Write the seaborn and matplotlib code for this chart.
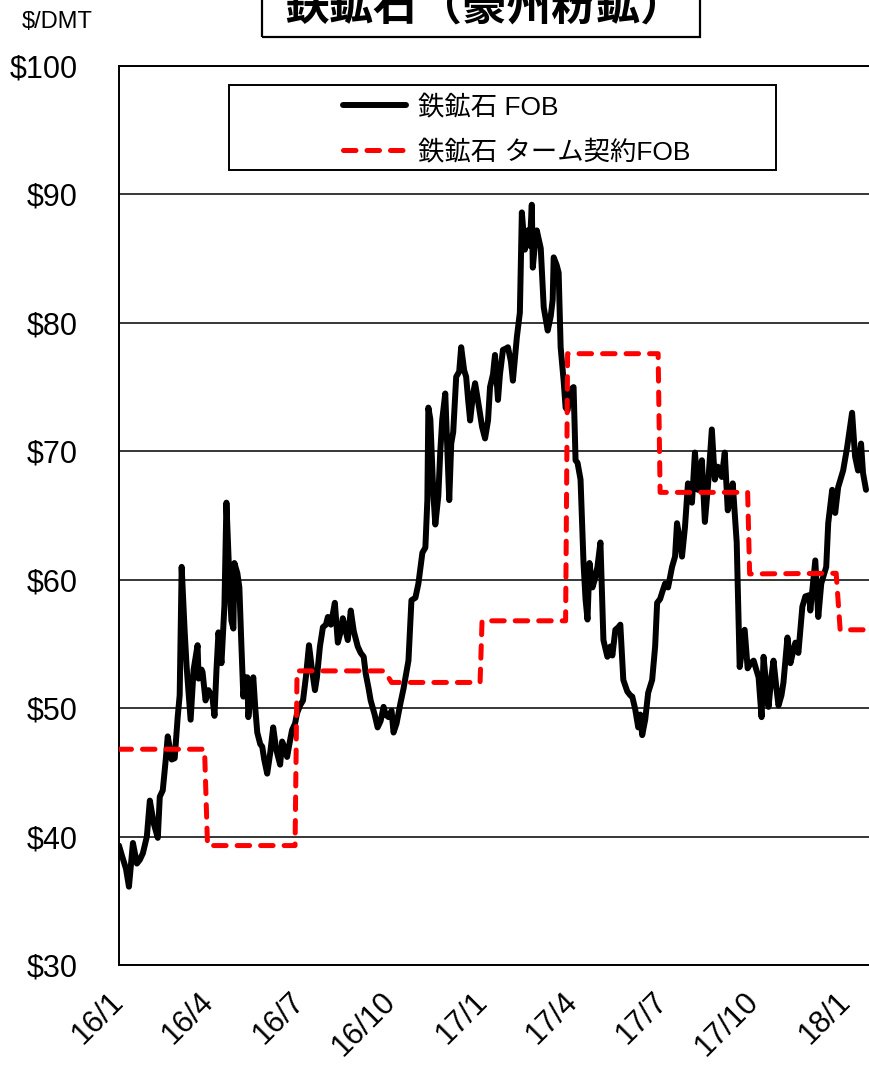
import numpy as np
import pandas as pd
import matplotlib
matplotlib.use("Agg")
import matplotlib.pyplot as plt
from matplotlib.patches import Rectangle
import seaborn as sns

# ---- data -------------------------------------------------------------
base_date = pd.Timestamp("2016-01-01")

# Iron ore spot FOB (US$/DMT), days counted from 2016-01-01
fob_days = [0, 3, 7, 10, 14, 18, 21, 24, 28, 31, 35, 39, 41, 44, 47, 49, 53, 56, 59, 61,
            63, 66, 68, 72, 75, 79, 80, 83, 84, 87, 90, 94, 96, 98, 100, 103, 106, 108, 111, 113,
            115, 116, 119, 121, 123, 125, 127, 129, 130, 133, 135, 137, 139, 142, 144, 146, 149, 152, 155, 158,
            162, 164, 167, 169, 172, 174, 177, 179, 182, 185, 188, 191, 194, 197, 199, 202, 205, 208, 210, 213,
            217, 220, 223, 225, 230, 233, 236, 240, 243, 246, 248, 251, 253, 257, 260, 263, 266, 268, 271, 274,
            276, 279, 283, 286, 288, 291, 294, 298, 301, 305, 308, 310, 311, 313, 316, 318, 321, 323, 325, 328,
            332, 334, 336, 339, 342, 344, 347, 349, 351, 353, 356, 358, 362, 365, 368, 371, 373, 376, 378, 381,
            383, 386, 389, 391, 394, 396, 400, 403, 405, 408, 411, 413, 415, 416, 418, 420, 424, 427, 431, 434,
            436, 437, 440, 442, 444, 447, 449, 451, 454, 457, 459, 461, 464, 467, 469, 471, 473, 476, 479, 481,
            484, 487, 491, 494, 496, 499, 502, 504, 507, 511, 514, 516, 519, 522, 524, 526, 529, 532, 536, 539,
            541, 544, 546, 549, 552, 556, 559, 561, 564, 566, 569, 572, 576, 579, 582, 586, 589, 592, 596, 599,
            602, 606, 609, 612, 614, 617, 621, 624, 629, 632, 635, 638, 643, 646, 648, 651, 653, 656, 658, 661,
            663, 666, 668, 672, 675, 678, 680, 683, 687, 690, 694, 695, 700, 703, 706, 711, 713, 717, 720, 723,
            728, 732, 737, 740, 743, 746, 748, 751]
fob_prices = [39.3, 38.5, 37.5, 36.1, 39.5, 37.9, 38.2, 38.7, 40.0, 42.8, 41.0, 39.9, 43.1, 43.6, 46.0, 47.8, 46.0, 46.1, 49.3, 51.0,
              61.0, 56.0, 53.2, 49.1, 53.0, 54.9, 52.3, 53.0, 52.8, 50.6, 51.4, 50.8, 49.4, 53.0, 55.9, 53.5, 58.0, 66.0, 60.0, 56.8,
              56.2, 61.3, 60.5, 59.4, 55.0, 50.9, 52.4, 52.4, 49.3, 51.5, 52.4, 50.0, 48.1, 47.2, 47.0, 46.0, 44.9, 46.5, 48.5, 46.8,
              45.6, 47.4, 46.8, 46.2, 47.5, 48.3, 48.8, 49.6, 50.2, 50.6, 52.5, 54.9, 53.0, 51.4, 52.4, 54.8, 56.3, 56.5, 57.1, 56.5,
              58.2, 55.1, 56.0, 57.0, 55.3, 57.6, 56.0, 54.8, 54.3, 54.0, 52.7, 51.5, 50.6, 49.5, 48.5, 49.0, 50.1, 49.5, 49.3, 49.8,
              48.1, 48.8, 50.4, 51.5, 52.4, 53.7, 58.4, 58.6, 59.7, 62.1, 62.5, 66.2, 73.4, 72.5, 66.7, 64.3, 66.5, 70.0, 72.5, 74.5,
              66.2, 70.6, 71.5, 75.8, 76.2, 78.1, 76.3, 75.8, 74.0, 72.4, 74.5, 75.3, 73.4, 71.9, 71.0, 72.4, 75.0, 76.0, 77.5, 74.0,
              76.0, 77.9, 78.0, 78.1, 77.0, 75.5, 78.9, 80.8, 88.6, 85.7, 87.2, 86.0, 89.2, 84.3, 86.0, 87.2, 85.8, 81.2, 79.4, 80.5,
              81.8, 85.1, 84.5, 83.9, 78.1, 75.5, 73.4, 73.2, 74.8, 75.0, 69.3, 69.1, 67.8, 61.3, 58.5, 56.9, 61.3, 59.4, 60.2, 61.0,
              62.9, 55.3, 54.0, 54.8, 54.1, 56.1, 56.3, 56.5, 52.2, 51.3, 51.0, 50.9, 49.9, 48.5, 49.5, 47.9, 49.1, 51.2, 52.2, 54.8,
              58.2, 58.5, 59.0, 59.7, 59.4, 61.0, 61.8, 64.4, 63.0, 61.8, 64.1, 67.5, 66.0, 69.9, 67.0, 69.3, 64.5, 67.2, 71.7, 67.8,
              68.8, 68.0, 69.9, 65.4, 66.0, 67.5, 62.9, 53.2, 56.1, 53.1, 53.5, 53.7, 52.4, 49.3, 54.0, 51.5, 50.1, 52.5, 53.7, 51.5,
              50.2, 51.0, 52.0, 55.5, 53.5, 54.5, 55.1, 54.3, 57.9, 58.7, 58.8, 57.6, 61.5, 57.1, 59.7, 61.0, 64.4, 67.0, 65.2, 67.2,
              68.5, 70.3, 73.0, 69.6, 68.5, 70.6, 68.3, 67.0]

# Quarterly term-contract FOB (US$/DMT): start and end of each quarter's level
term_days = [0, 86, 89, 177, 179, 267, 274, 363, 365, 449, 451, 542, 544, 632, 634, 721, 725, 754]
term_prices = [46.8, 46.8, 39.3, 39.3, 52.9, 52.9, 52.0, 52.0, 56.8, 56.8, 77.6, 77.6,
               66.8, 66.8, 60.45, 60.5, 56.1, 56.1]

xtick_dates = ["2016-01-01", "2016-04-01", "2016-07-01", "2016-10-01", "2017-01-01",
               "2017-04-01", "2017-07-01", "2017-10-01", "2018-01-01"]
xtick_labels = ["16/1", "16/4", "16/7", "16/10", "17/1", "17/4", "17/7", "17/10", "18/1"]
ytick_values = [30, 40, 50, 60, 70, 80, 90, 100]

series_labels = ["鉄鉱石 FOB", "鉄鉱石 ターム契約FOB"]
title_text = "鉄鉱石（豪州粉鉱）"
unit_text = "$/DMT"
x_end_day = 754

# ---- frames -----------------------------------------------------------
fob = pd.DataFrame({"date": base_date + pd.to_timedelta(fob_days, unit="D"),
                    "price": fob_prices})
term = pd.DataFrame({"date": base_date + pd.to_timedelta(term_days, unit="D"),
                     "price": term_prices})

# ---- style ------------------------------------------------------------
sns.set_style("white")
plt.rcParams["font.family"] = ["Liberation Sans", "Noto Sans CJK JP", "DejaVu Sans"]
plt.rcParams["text.color"] = "black"
plt.rcParams["xtick.color"] = "black"
plt.rcParams["ytick.color"] = "black"

W, H = 869, 1065
fig = plt.figure(figsize=(W / 100, H / 100), dpi=100)
ax = fig.add_axes([119 / W, 1 - 965 / H, (W - 119) / W, (965 - 66) / H])

sns.lineplot(data=fob, x="date", y="price", ax=ax, color="black", linewidth=4.3,
             solid_joinstyle="round", solid_capstyle="round", label=series_labels[0],
             zorder=3)
sns.lineplot(data=term, x="date", y="price", ax=ax, color="#ff0000", linewidth=3.6,
             linestyle=(0, (2.5, 2.2)), dash_capstyle="round", label=series_labels[1],
             zorder=4)

ax.set_xlim(base_date, base_date + pd.Timedelta(days=x_end_day))
ax.set_ylim(30, 100)
ax.set_xlabel("")
ax.set_ylabel("")

ax.set_yticks(ytick_values)
ax.set_yticklabels([f"${v}" for v in ytick_values], fontsize=22, color="black")
ax.set_xticks(pd.to_datetime(xtick_dates))
ax.set_xticklabels(xtick_labels, fontsize=22, rotation=45, ha="right", va="center",
                   rotation_mode="anchor", color="black")
ax.tick_params(axis="y", direction="in", length=8, width=1.2, colors="black", pad=30)
ax.tick_params(axis="x", direction="in", length=7, width=1.0, colors="black", pad=23)

ax.grid(axis="y", color="black", linewidth=1.1)
ax.grid(axis="x", visible=False)
for side in ["left", "bottom", "top"]:
    ax.spines[side].set_visible(True)
    ax.spines[side].set_color("black")
    ax.spines[side].set_linewidth(1.4)
ax.spines["right"].set_visible(False)

# legend with its own frame
leg = ax.legend(loc="center left", bbox_to_anchor=(343 / W, 1 - 129.5 / H),
                bbox_transform=fig.transFigure, frameon=False, fontsize=19,
                handlelength=2.4, handletextpad=0.45, labelspacing=0.75,
                borderpad=0, borderaxespad=0)
for t in leg.get_texts():
    t.set_color("black")
fig.patches.append(Rectangle((229 / W, 1 - 170 / H), (776 - 229) / W, 85 / H,
                             transform=fig.transFigure, fill=False,
                             edgecolor="black", linewidth=1.4, zorder=5))

# title box at the top (its upper part lies beyond the canvas)
fig.patches.append(Rectangle((262 / W, 1 - 37 / H), (700 - 262) / W, 60 / H,
                             transform=fig.transFigure, fill=False,
                             edgecolor="black", linewidth=1.6, clip_on=False))
fig.text(485 / W, 1 - 20 / H, title_text, fontsize=32, fontweight="bold",
         ha="center", va="baseline", color="black",
         family=["Noto Sans CJK JP", "DejaVu Sans"])

fig.text(22 / W, 1 - 22 / H, unit_text, fontsize=17, ha="left", va="center",
         color="black")

fig.savefig("out.png", dpi=100)
